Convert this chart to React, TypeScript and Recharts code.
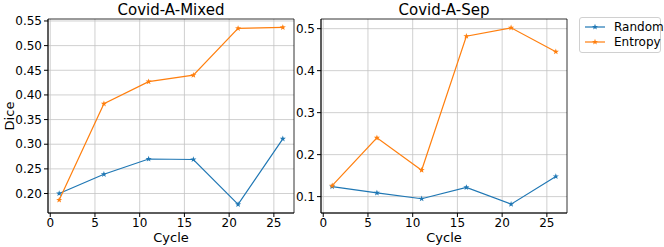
import React from 'react'
import { LineChart, Line, XAxis, YAxis, CartesianGrid, ReferenceArea } from 'recharts'

const cycles = [1, 6, 11, 16, 21, 26]
const mixedRandom = [0.2, 0.239, 0.27, 0.269, 0.178, 0.311]
const mixedEntropy = [0.187, 0.382, 0.427, 0.44, 0.535, 0.537]
const sepRandom = [0.124, 0.109, 0.095, 0.122, 0.082, 0.148]
const sepEntropy = [0.126, 0.24, 0.163, 0.482, 0.502, 0.445]

const xTicks = [0, 5, 10, 15, 20, 25]
const mixedTicks = [0.2, 0.25, 0.3, 0.35, 0.4, 0.45, 0.5, 0.55]
const sepTicks = [0.1, 0.2, 0.3, 0.4, 0.5]

const BLUE = '#1f77b4'
const ORANGE = '#ff7f0e'
const FONT = '"DejaVu Sans", sans-serif'
const X_DOMAIN = [-0.25, 27.25]

const mixedData = cycles.map((c, i) => ({ cycle: c, random: mixedRandom[i], entropy: mixedEntropy[i] }))
const sepData = cycles.map((c, i) => ({ cycle: c, random: sepRandom[i], entropy: sepEntropy[i] }))

// little matplotlib-ish "*" marker
function Star(props: any) {
  const { cx, cy, stroke } = props
  if (cx == null || cy == null) return null
  const pts: string[] = []
  for (let i = 0; i < 10; i++) {
    const r = i % 2 === 0 ? 3.2 : 1.3
    const a = -Math.PI / 2 + (i * Math.PI) / 5
    pts.push(`${cx + r * Math.cos(a)},${cy + r * Math.sin(a)}`)
  }
  return <polygon points={pts.join(' ')} fill={stroke} stroke="none" />
}

const tickStyle = { fill: '#000', fontSize: 12, fontFamily: FONT }

function Panel({ data, yDomain, yTicks, fmt, width, yWidth, showYLabel }: any) {
  return (
    <LineChart width={width} height={247} data={data} margin={{ top: 19, right: 8, left: 0, bottom: 0 }}>
      <CartesianGrid stroke="#c4c4c4" strokeWidth={0.8} horizontalValues={yTicks} verticalValues={xTicks} />
      <XAxis
        dataKey="cycle"
        type="number"
        domain={X_DOMAIN}
        ticks={xTicks}
        allowDataOverflow
        height={34}
        tickSize={4}
        tickMargin={1}
        tick={tickStyle}
        stroke="#000"
        axisLine={{ stroke: '#000', strokeWidth: 0.8 }}
        label={{ value: 'Cycle', position: 'insideBottom', offset: 5, style: { fill: '#000', fontSize: 13, fontFamily: FONT } }}
      />
      <YAxis
        type="number"
        domain={yDomain}
        ticks={yTicks}
        allowDataOverflow
        width={yWidth}
        tickSize={4}
        tickMargin={2}
        tickFormatter={fmt}
        tick={tickStyle}
        stroke="#000"
        axisLine={{ stroke: '#000', strokeWidth: 0.8 }}
        label={showYLabel ? { value: 'Dice', angle: -90, position: 'insideLeft', offset: 9, style: { fill: '#000', fontSize: 13, fontFamily: FONT, textAnchor: 'middle' } } : undefined}
      />
      {/* frame = the top/right spines */}
      <ReferenceArea x1={X_DOMAIN[0]} x2={X_DOMAIN[1]} y1={yDomain[0]} y2={yDomain[1]} fill="none" fillOpacity={0} stroke="#000" strokeWidth={0.8} strokeOpacity={1} />
      <Line dataKey="random" stroke={BLUE} strokeWidth={1.2} dot={<Star />} isAnimationActive={false} />
      <Line dataKey="entropy" stroke={ORANGE} strokeWidth={1.2} dot={<Star />} isAnimationActive={false} />
    </LineChart>
  )
}

export default function App() {
  const title = { position: 'absolute' as const, top: 1, fontSize: 15, fontFamily: FONT, color: '#000', textAlign: 'center' as const }
  return (
    <div style={{ position: 'absolute', left: 0, top: 0, width: 664, height: 247, background: '#fff', overflow: 'hidden' }}>
      <div style={{ position: 'absolute', left: 0, top: 0 }}>
        <Panel data={mixedData} yDomain={[0.1605, 0.554]} yTicks={mixedTicks} fmt={(v: number) => v.toFixed(2)} width={302} yWidth={48} showYLabel />
      </div>
      <div style={{ position: 'absolute', left: 285, top: 0 }}>
        <Panel data={sepData} yDomain={[0.061, 0.523]} yTicks={sepTicks} fmt={(v: number) => v.toFixed(1)} width={290} yWidth={36} />
      </div>
      <div style={{ ...title, left: 48, width: 246 }}>Covid-A-Mixed</div>
      <div style={{ ...title, left: 321, width: 246 }}>Covid-A-Sep</div>
      <div style={{ position: 'absolute', left: 579, top: 17, width: 80, height: 34, border: '1px solid #d0d0d0', borderRadius: 3, fontFamily: FONT, fontSize: 12 }}>
        {[{ name: 'Random', color: BLUE }, { name: 'Entropy', color: ORANGE }].map((s, i) => (
          <div key={s.name} style={{ position: 'absolute', left: 4, top: 2 + i * 15, display: 'flex', alignItems: 'center' }}>
            <svg width={22} height={12}>
              <line x1={1} y1={6} x2={21} y2={6} stroke={s.color} strokeWidth={1.2} />
              <Star cx={11} cy={6} stroke={s.color} />
            </svg>
            <span style={{ marginLeft: 8, lineHeight: '14px' }}>{s.name}</span>
          </div>
        ))}
      </div>
    </div>
  )
}
